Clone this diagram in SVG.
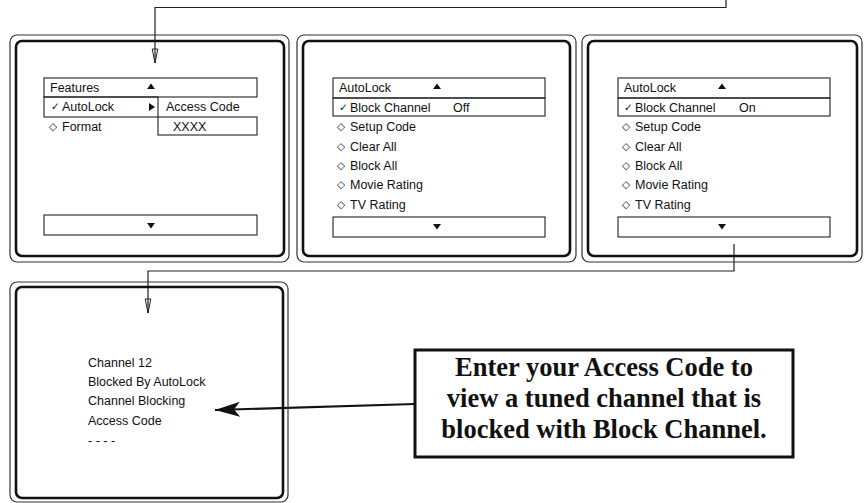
<svg xmlns="http://www.w3.org/2000/svg" width="865" height="503" viewBox="0 0 865 503">
<style>
.outer{fill:none;stroke:#333;stroke-width:1.2}
.inner{fill:none;stroke:#111;stroke-width:2.6}
.box{fill:none;stroke:#222;stroke-width:1.1}
.t{font-family:"Liberation Sans","DejaVu Sans",sans-serif;font-size:12.5px;fill:#111}
.sym{font-family:"DejaVu Sans",sans-serif;font-size:10.5px;fill:#111}
.tri{fill:#111}
.conn{fill:none;stroke:#222;stroke-width:1.2}
.call{fill:none;stroke:#111;stroke-width:2.2}
.cbox{fill:#fff;stroke:#111;stroke-width:3}
.ct{font-family:"Liberation Serif","Times New Roman",serif;font-weight:bold;font-size:26.5px;fill:#111;text-anchor:middle}
</style>
<defs>
<marker id="hollow" markerUnits="userSpaceOnUse" markerWidth="16" markerHeight="8" refX="15" refY="4" orient="auto" viewBox="0 0 16 8">
<path d="M1,1.2 L15,4 L1,6.8 Z" fill="none" stroke="#222" stroke-width="1"/>
</marker>
<marker id="big" markerUnits="userSpaceOnUse" markerWidth="26" markerHeight="15" refX="25" refY="7.5" orient="auto" viewBox="0 0 26 15">
<path d="M0,0 L25,7.5 L0,15 L6,7.5 Z" fill="#111"/>
</marker>
</defs>

<g id="connectors">
<polyline class="conn" points="726,0 726,7.5 155,7.5 155,63" marker-end="url(#hollow)"/>
<polyline class="conn" points="734,244 734,271 148,271 148,313" marker-end="url(#hollow)"/>
<line class="call" x1="415" y1="404" x2="215" y2="410" marker-end="url(#big)"/>
</g>

<g id="panel1">
<rect class="outer" x="10" y="35" width="279" height="227" rx="7"/>
<rect class="inner" x="16" y="41" width="268" height="215" rx="6"/>
<rect class="box" x="44" y="78" width="213" height="19"/>
<text class="t" x="50" y="92">Features</text>
<polygon class="tri" points="147,89 155,89 151,83.5"/>
<rect class="box" x="44" y="97" width="114" height="20"/>
<text class="sym" x="51" y="110">✓</text>
<text class="t" x="62" y="111">AutoLock</text>
<polygon class="tri" points="149,103 149,111 155,107"/>
<text class="t" x="166" y="111">Access Code</text>
<rect class="box" x="158" y="117" width="99" height="18"/>
<text class="t" x="173" y="131">XXXX</text>
<text class="sym" x="49" y="130">◇</text>
<text class="t" x="62" y="131">Format</text>
<rect class="box" x="44" y="215" width="213" height="20"/>
<polygon class="tri" points="147,223 155,223 151,228.5"/>
</g>

<g id="panel2">
<rect class="outer" x="297" y="35" width="279" height="227" rx="7"/>
<rect class="inner" x="303" y="41" width="267" height="215" rx="6"/>
<rect class="box" x="333" y="78" width="212" height="20"/>
<text class="t" x="339" y="92">AutoLock</text>
<polygon class="tri" points="433,89 441,89 437,83.5"/>
<rect class="box" x="333" y="98" width="212" height="18"/>
<text class="sym" x="339" y="111">✓</text>
<text class="t" x="350" y="112">Block Channel</text>
<text class="t" x="453" y="112">Off</text>
<text class="sym" x="337" y="130">◇</text>
<text class="t" x="350" y="131">Setup Code</text>
<text class="sym" x="337" y="150">◇</text>
<text class="t" x="350" y="151">Clear All</text>
<text class="sym" x="337" y="169">◇</text>
<text class="t" x="350" y="170">Block All</text>
<text class="sym" x="337" y="188">◇</text>
<text class="t" x="350" y="189">Movie Rating</text>
<text class="sym" x="337" y="208">◇</text>
<text class="t" x="350" y="209">TV Rating</text>
<rect class="box" x="333" y="217" width="212" height="20"/>
<polygon class="tri" points="433,224 441,224 437,229.5"/>
</g>

<g id="panel3">
<rect class="outer" x="582" y="35" width="280" height="227" rx="7"/>
<rect class="inner" x="588" y="41" width="269" height="215" rx="6"/>
<rect class="box" x="618" y="78" width="212" height="20"/>
<text class="t" x="624" y="92">AutoLock</text>
<polygon class="tri" points="718,89 726,89 722,83.5"/>
<rect class="box" x="618" y="98" width="212" height="18"/>
<text class="sym" x="624" y="111">✓</text>
<text class="t" x="635" y="112">Block Channel</text>
<text class="t" x="739" y="112">On</text>
<text class="sym" x="622" y="130">◇</text>
<text class="t" x="635" y="131">Setup Code</text>
<text class="sym" x="622" y="150">◇</text>
<text class="t" x="635" y="151">Clear All</text>
<text class="sym" x="622" y="169">◇</text>
<text class="t" x="635" y="170">Block All</text>
<text class="sym" x="622" y="188">◇</text>
<text class="t" x="635" y="189">Movie Rating</text>
<text class="sym" x="622" y="208">◇</text>
<text class="t" x="635" y="209">TV Rating</text>
<rect class="box" x="618" y="217" width="212" height="20"/>
<polygon class="tri" points="718,224 726,224 722,229.5"/>
</g>

<g id="panel4">
<rect class="outer" x="10" y="282" width="278" height="220" rx="7"/>
<rect class="inner" x="16" y="287" width="267" height="211" rx="6"/>
<text class="t" x="88" y="367">Channel 12</text>
<text class="t" x="88" y="386">Blocked By AutoLock</text>
<text class="t" x="88" y="405">Channel Blocking</text>
<text class="t" x="88" y="425">Access Code</text>
<text class="t" x="88" y="445">- - - -</text>
</g>

<g id="callout">
<rect class="cbox" x="415" y="350" width="378" height="107"/>
<text class="ct" x="604" y="376">Enter your Access Code to</text>
<text class="ct" x="604" y="407">view a tuned channel that is</text>
<text class="ct" x="604" y="438">blocked with Block Channel.</text>
</g>
</svg>
